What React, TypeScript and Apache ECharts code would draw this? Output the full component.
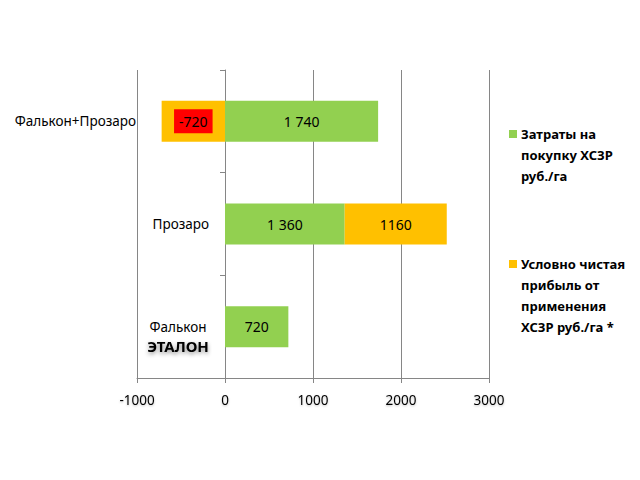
import React, { useEffect, useRef } from "react";
import * as echarts from "echarts";

const categories = ["Фалькон+Прозаро", "Прозаро", "Фалькон"];
const costValues = [1740, 1360, 720];
const profitValues: (number | null)[] = [-720, 1160, null];
const xTicks = { min: -1000, max: 3000, interval: 1000 };
const legendNames = [
  "Затраты на\nпокупку ХСЗР\nруб./га",
  "Условно чистая\nприбыль от\nприменения\nХСЗР руб./га *",
];
const benchmarkLabel = "ЭТАЛОН";

const GREEN = "#92D050";
const ORANGE = "#FFC000";
const RED = "#FF0000";
const GRID = "#868686";
const FONT = "Noto Sans";

const withSpaces = (v: number) =>
  String(v).replace(/\B(?=(\d{3})+(?!\d))/g, " ");

const App: React.FC = () => {
  const chartRef = useRef<HTMLDivElement>(null);

  useEffect(() => {
    document.body.style.margin = "0";
    if (!chartRef.current) return;
    const chart = echarts.init(chartRef.current, undefined, { renderer: "svg" });

    const option: any = {
      animation: false,
      backgroundColor: "#ffffff",
      textStyle: { fontFamily: FONT },
      grid: {
        left: 137,
        right: 151,
        top: 70,
        bottom: 102,
        containLabel: false,
        outerBoundsMode: "none",
      },
      xAxis: {
        type: "value",
        min: xTicks.min,
        max: xTicks.max,
        interval: xTicks.interval,
        axisLine: { show: true, onZero: false, lineStyle: { color: GRID } },
        axisTick: { show: true, length: 5, lineStyle: { color: GRID } },
        splitLine: { show: true, lineStyle: { color: GRID } },
        axisLabel: {
          color: "#000",
          fontSize: 13.5,
          fontFamily: FONT,
          margin: 15,
          formatter: (v: number) => String(v),
          textShadowColor: "rgba(0,0,0,0.25)",
          textShadowBlur: 2,
          textShadowOffsetY: 1,
        },
      },
      yAxis: {
        type: "category",
        inverse: true,
        data: categories.map((c, i) =>
          i === 0
            ? { value: c, textStyle: { padding: [0, 73, 0, 0] } }
            : i === 2
            ? { value: c, textStyle: { padding: [19, 0, 0, 0] } }
            : c
        ),
        axisLine: { show: true, onZero: true, lineStyle: { color: GRID } },
        axisTick: { show: true, length: 5, lineStyle: { color: GRID } },
        splitLine: { show: false },
        axisLabel: {
          color: "#000",
          fontSize: 13.5,
          fontFamily: FONT,
          margin: -72,
          formatter: (v: string, i: number) =>
            i === 2 ? `{a|${v}}\n{b|${benchmarkLabel}}` : v,
          rich: {
            a: { width: 62, align: "center", lineHeight: 19, fontSize: 13.5, fontFamily: FONT, color: "#000" },
            b: {
              width: 62,
              align: "center",
              lineHeight: 19,
              fontSize: 15,
              fontWeight: "bold",
              fontFamily: FONT,
              color: "#000",
              textShadowColor: "rgba(0,0,0,0.45)",
              textShadowBlur: 4,
              textShadowOffsetY: 2,
            },
          },
        },
      },
      series: [
        {
          name: legendNames[0],
          type: "bar",
          stack: "total",
          barWidth: 41,
          data: costValues,
          itemStyle: { color: GREEN },
          label: {
            show: true,
            position: "inside",
            color: "#000",
            fontSize: 14,
            fontFamily: FONT,
            formatter: (p: any) => withSpaces(p.value),
          },
        },
        {
          name: legendNames[1],
          type: "bar",
          stack: "total",
          barWidth: 41,
          data: profitValues.map((v) =>
            v !== null && v < 0
              ? { value: v, label: { backgroundColor: RED, padding: [5, 5] } }
              : v
          ),
          itemStyle: { color: ORANGE },
          label: {
            show: true,
            position: "inside",
            color: "#000",
            fontSize: 14,
            fontFamily: FONT,
            formatter: (p: any) => (p.value == null ? "" : String(p.value)),
          },
        },
      ],
      graphic: [
        { type: "rect", shape: { x: 509, y: 130, width: 8, height: 8 }, style: { fill: GREEN } },
        {
          type: "text",
          x: 521,
          y: 123.5,
          style: {
            text: legendNames[0],
            fontFamily: FONT,
            fontSize: 13,
            fontWeight: "bold",
            lineHeight: 21,
            fill: "#000",
            verticalAlign: "top",
          },
        },
        { type: "rect", shape: { x: 509, y: 260, width: 8, height: 8 }, style: { fill: ORANGE } },
        {
          type: "text",
          x: 521,
          y: 253.5,
          style: {
            text: legendNames[1],
            fontFamily: FONT,
            fontSize: 13,
            fontWeight: "bold",
            lineHeight: 21,
            fill: "#000",
            verticalAlign: "top",
          },
        },
      ],
    };

    chart.setOption(option);
    return () => chart.dispose();
  }, []);

  return (
    <div
      ref={chartRef}
      style={{ width: 640, height: 480 }}
      aria-label="Bar chart of plant protection costs and net profit"
    />
  );
};

export default App;
